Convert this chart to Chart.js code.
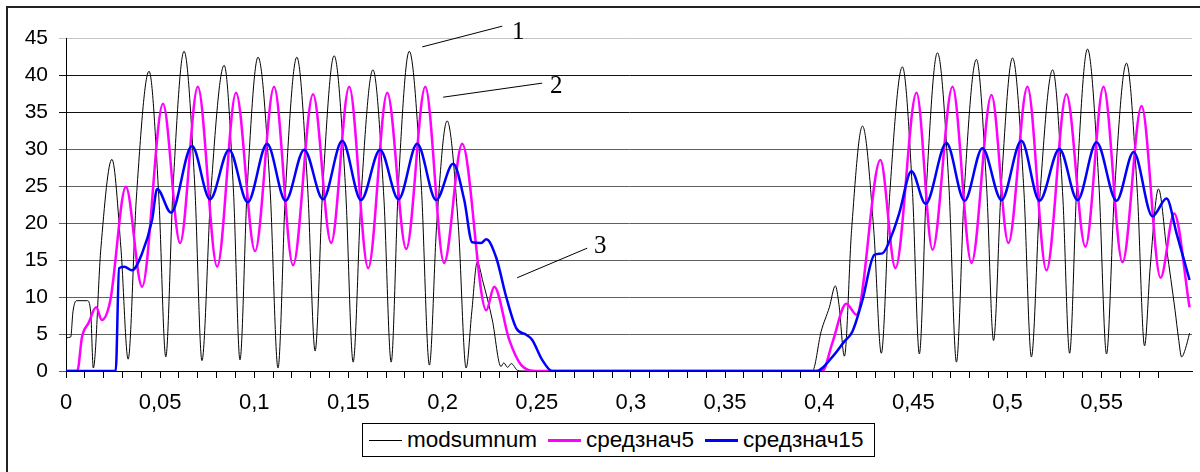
<!DOCTYPE html>
<html>
<head>
<meta charset="utf-8">
<script src="https://cdn.jsdelivr.net/npm/chart.js@4.4.0/dist/chart.umd.min.js"></script>
<style>
    html, body { margin: 0; padding: 0; background: #fff; }
    #wrap { position: relative; width: 1200px; height: 472px; overflow: hidden; }
    #frame { position: absolute; left: 6px; top: 6px; width: 1220px; height: 490px; border: 2px solid #222; box-sizing: border-box; }
    #chart { position: absolute; left: 0; top: 0; }
    #legend {
        position: absolute; left: 362px; top: 423px; width: 513px; height: 34px;
        border: 1px solid #000; box-sizing: border-box; background: #fff;
        display: flex; align-items: center; padding-left: 6px;
        font: 22.5px "Liberation Sans", Arial, sans-serif; color: #000;
    }
    .item { display: flex; align-items: center; margin-right: 11px; }
    .swatch { width: 33px; height: 0; margin-right: 5px; }
</style>
</head>
<body>
<div id="wrap">
    <div id="frame"></div>
    <canvas id="chart" width="1200" height="472"></canvas>
    <div id="legend"></div>
</div>
<script>
// Series names
const seriesNames = ['modsumnum', 'средзнач5', 'средзнач15'];

// modsumnum (thin black)
const modsumX = [0, 0.0025, 0.0037, 0.0055, 0.0113, 0.0131, 0.0145, 0.0185, 0.0244, 0.0292, 0.033,
    0.0374, 0.0441, 0.0493, 0.053, 0.0569, 0.0627, 0.0684, 0.0722, 0.0769, 0.084, 0.089, 0.0924,
    0.0962, 0.102, 0.1084, 0.1126, 0.1166, 0.1226, 0.1284, 0.1323, 0.1363, 0.1424, 0.1485, 0.1525,
    0.1567, 0.163, 0.1688, 0.1727, 0.1765, 0.1823, 0.1887, 0.193, 0.1968, 0.2024, 0.2084, 0.2125,
    0.2155, 0.2184, 0.2215, 0.2264, 0.231, 0.2325, 0.2345, 0.2365, 0.2397, 0.242,
    0.3964, 0.401, 0.4054, 0.4086, 0.4105, 0.4134, 0.4172, 0.423, 0.429, 0.433, 0.4375, 0.4442,
    0.4496, 0.4532, 0.457, 0.4628, 0.4689, 0.4729, 0.4771, 0.4835, 0.489, 0.4926, 0.4966, 0.5027,
    0.5087, 0.5127, 0.5172, 0.524, 0.5294, 0.533, 0.5368, 0.5425, 0.5486, 0.5526, 0.5568, 0.5632,
    0.569, 0.5728, 0.5758, 0.5802, 0.5846, 0.589, 0.5908, 0.5925, 0.5945, 0.5967];
const modsumY = [4.5, 4.6, 8, 9.5, 9.5, 8, 0.4, 16.5, 28.6, 16.5, 1.6,
    23.5, 40.5, 23.5, 1.9, 25, 43.2, 25, 1.4, 24, 41.3, 24, 1.5,
    24.5, 42.4, 24.5, 0.4, 24.5, 42.4, 24.5, 2.7, 24.5, 42.6, 24.5, 1.2,
    23.5, 40.7, 23.5, 1.2, 25, 43.2, 25, 0.8, 19.5, 33.8, 19.5, 0.4,
    8, 14.7, 12, 6.9, 0.6, 1.1, 0.5, 1.0, 0.1, 0,
    0, 5.3, 8.6, 11.5, 9, 2.0, 19, 33.1, 19, 2.4, 24, 41.1,
    24, 2.3, 25, 43.0, 25, 1.2, 24.5, 42.1, 24.5, 4.1, 24.5, 42.3,
    24.5, 1.9, 23.5, 40.7, 23.5, 2.4, 25, 43.5, 25, 2.3, 24, 41.6,
    24, 3.4, 14, 24.6, 16.4, 8.2, 4.5, 1.9, 3, 5.1];

// средзнач5 (magenta)
const sred5X = [0, 0.006, 0.0085, 0.012, 0.016, 0.019, 0.0235, 0.0318, 0.0404, 0.0515, 0.0606,
    0.070, 0.0803, 0.0903, 0.1004, 0.1105, 0.1206, 0.1312, 0.1408, 0.1504, 0.1605, 0.1706,
    0.1807, 0.1908, 0.2008, 0.2104, 0.2232, 0.2274, 0.2354, 0.2418, 0.250,
    0.4017, 0.407, 0.4144, 0.4198, 0.4325, 0.4405, 0.4517, 0.4602, 0.4708, 0.4809, 0.4915,
    0.5005, 0.5106, 0.5207, 0.5313, 0.5414, 0.551, 0.5611, 0.5712, 0.5813, 0.5885, 0.5967];
const sred5Y = [0, 0, 4.6, 6.5, 8.6, 6.9, 9.5, 24.9, 11.4, 36.1, 17.3,
    38.4, 14.1, 37.6, 16.2, 38.4, 14.3, 37.4, 17.3, 38.4, 13.9, 37.6,
    16.5, 38.4, 14.6, 30.7, 8.2, 11.4, 4.2, 0.8, 0,
    0, 3.8, 9.1, 7.6, 28.5, 13.9, 37.6, 16.4, 38.4, 14.6, 37.3,
    17.3, 38.4, 13.6, 37.4, 16.8, 38.4, 14.7, 35.8, 12.6, 21.3, 8.6];

// средзнач15 (blue)
const sred15X = [0, 0.0264, 0.0282, 0.031, 0.035, 0.0404, 0.0457, 0.0484, 0.0558, 0.0669, 0.0765,
    0.0866, 0.0965, 0.1068, 0.1166, 0.1265, 0.1365, 0.1467, 0.1567, 0.1668, 0.1766, 0.1865,
    0.1966, 0.2056, 0.2115, 0.2157, 0.2205, 0.2232, 0.2285, 0.2338, 0.2391, 0.2444, 0.2476,
    0.2529, 0.2582,
    0.3985, 0.407, 0.4134, 0.4176, 0.423, 0.4293, 0.4336, 0.4389, 0.4426, 0.449, 0.4565, 0.4676,
    0.4772, 0.4867, 0.4968, 0.5074, 0.517, 0.5276, 0.5372, 0.5473, 0.5579, 0.567, 0.577, 0.5845,
    0.5898, 0.5967];
const sred15Y = [0, 0, 13.9, 14.1, 13.6, 15.9, 20.4, 24.6, 21.4, 30.4, 23.2,
    29.9, 22.8, 30.7, 23.0, 29.9, 23.2, 31.1, 23.1, 29.9, 23.2, 30.7,
    23.1, 28.0, 23.1, 17.4, 17.3, 17.8, 15.3, 10, 5.8, 4.9, 4.2,
    1.5, 0,
    0, 1.9, 4.0, 5.3, 9.6, 15.7, 15.9, 18.6, 21.4, 27.0, 22.6, 30.8,
    23.0, 30.1, 23.1, 31.1, 23.0, 30.0, 23.1, 30.9, 23.0, 29.6, 20.9, 23.3,
    18.6, 12.3];

// Axis ticks
const xTickLabels = ['0', '0,05', '0,1', '0,15', '0,2', '0,25', '0,3', '0,35', '0,4', '0,45', '0,5', '0,55'];
const yTickLabels = ['0', '5', '10', '15', '20', '25', '30', '35', '40', '45'];

// Numbered callouts (data units)
const callouts = [
    { text: '1', from: [0.1892, 43.8], to: [0.2317, 46.6], at: [0.2402, 45.7] },
    { text: '2', from: [0.2003, 37.0], to: [0.2529, 38.9], at: [0.2604, 38.5] },
    { text: '3', from: [0.2396, 12.6], to: [0.2768, 16.6], at: [0.2837, 16.8] }
];

const colors = ['#000000', '#ff00ff', '#0000ff'];
const widths = [1, 2.5, 2.5];
const sans = '"Liberation Sans", Arial, sans-serif';

const toPoints = (xs, ys) => xs.map((x, i) => ({ x: x, y: ys[i] }));

const calloutPlugin = {
    id: 'callouts',
    afterDraw(chart) {
        const c = chart.ctx, sx = chart.scales.x, sy = chart.scales.y;
        c.save();
        c.strokeStyle = '#000';
        c.lineWidth = 1;
        c.fillStyle = '#000';
        c.font = '25px "Liberation Serif", "Times New Roman", serif';
        c.textAlign = 'center';
        c.textBaseline = 'middle';
        callouts.forEach(k => {
            c.beginPath();
            c.moveTo(sx.getPixelForValue(k.from[0]), sy.getPixelForValue(k.from[1]));
            c.lineTo(sx.getPixelForValue(k.to[0]), sy.getPixelForValue(k.to[1]));
            c.stroke();
            c.fillText(k.text, sx.getPixelForValue(k.at[0]), sy.getPixelForValue(k.at[1]));
        });
        c.restore();
    }
};

const ctx = document.getElementById('chart').getContext('2d');
new Chart(ctx, {
    type: 'line',
    data: {
        datasets: [
            { label: seriesNames[0], data: toPoints(modsumX, modsumY), borderColor: colors[0], borderWidth: widths[0], order: 3 },
            { label: seriesNames[1], data: toPoints(sred5X, sred5Y), borderColor: colors[1], borderWidth: widths[1], order: 2 },
            { label: seriesNames[2], data: toPoints(sred15X, sred15Y), borderColor: colors[2], borderWidth: widths[2], order: 1 }
        ]
    },
    options: {
        responsive: false,
        animation: false,
        devicePixelRatio: 1,
        elements: {
            point: { radius: 0 },
            line: { cubicInterpolationMode: 'monotone', fill: false }
        },
        layout: { padding: { left: 0, top: 38, right: 8, bottom: 0 } },
        plugins: { legend: { display: false }, tooltip: { enabled: false } },
        scales: {
            x: {
                type: 'linear',
                min: 0,
                max: 0.598,
                afterBuildTicks: axis => {
                    axis.ticks = axis.ticks.filter(t => Math.abs(t.value * 100 - Math.round(t.value * 100)) < 1e-6);
                },
                afterFit: s => { s.height = 101; },
                ticks: {
                    stepSize: 0.01,
                    autoSkip: false,
                    maxRotation: 0,
                    padding: 12,
                    color: '#000',
                    font: { family: sans, size: 22 },
                    callback: v => {
                        const k = Math.round(v / 0.05);
                        return Math.abs(v - k * 0.05) < 1e-6 ? xTickLabels[k] : '';
                    }
                },
                grid: { drawOnChartArea: false, drawTicks: true, tickLength: 7, color: '#000' },
                border: { color: '#000', width: 1 }
            },
            y: {
                min: 0,
                max: 45,
                afterFit: s => { s.width = 66; },
                ticks: {
                    stepSize: 5,
                    padding: 11,
                    color: '#000',
                    font: { family: sans, size: 21 },
                    callback: v => yTickLabels[Math.round(v / 5)]
                },
                grid: {
                    tickLength: 7,
                    color: c => {
                        const v = c.tick ? c.tick.value : 0;
                        if (v === 45) return '#c4c4c4';
                        if (v === 40 || v === 35) return '#111';
                        return '#606060';
                    }
                },
                border: { color: '#000', width: 1 }
            }
        }
    },
    plugins: [calloutPlugin]
});

// Legend
const legend = document.getElementById('legend');
seriesNames.forEach((name, i) => {
    const item = document.createElement('div');
    item.className = 'item';
    const sw = document.createElement('span');
    sw.className = 'swatch';
    sw.style.borderTop = Math.max(1, Math.round(widths[i])) + 'px solid ' + colors[i];
    const tx = document.createElement('span');
    tx.textContent = name;
    item.appendChild(sw);
    item.appendChild(tx);
    legend.appendChild(item);
});
</script>
</body>
</html>
